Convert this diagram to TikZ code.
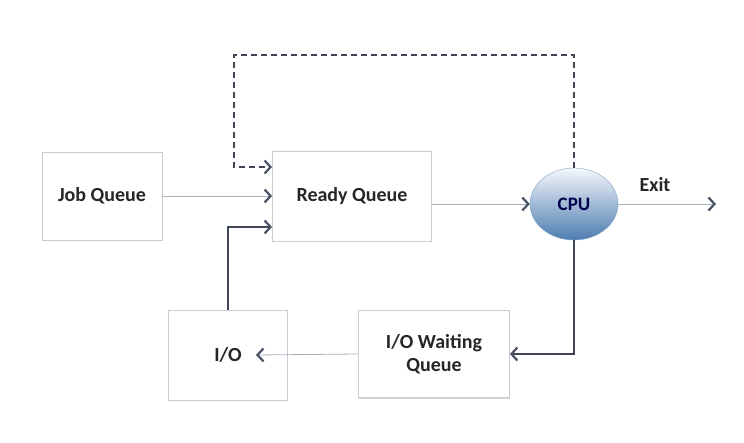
\documentclass[tikz,border=0pt]{standalone}
\usepackage{fontspec}
\setmainfont{Carlito}
\usetikzlibrary{arrows.meta,shapes.geometric,shadows}
\definecolor{boxline}{HTML}{C9CDD3}
\definecolor{thinline}{HTML}{A8B1C0}
\definecolor{darkline}{HTML}{3E4554}
\definecolor{tipcol}{HTML}{4A5263}
\definecolor{cputop}{HTML}{F4F8FC}
\definecolor{cpubot}{HTML}{4E7CB0}

\begin{document}
\begin{tikzpicture}[x=1pt,y=-1pt,
  box/.style={draw=boxline,line width=0.8pt,fill=white,minimum width=#1,
    drop shadow={opacity=0.35,shadow xshift=0pt,shadow yshift=-1.2pt},
    font=\fontsize{20}{23}\selectfont\bfseries,text=black!85,align=center},
  tipbarb/.style={-{Straight Barb[length=6pt,width=13pt,line width=2.2pt,color=tipcol]}},
  thinarrow/.style={draw=thinline,line width=0.8pt,tipbarb},
  thickarrow/.style={draw=darkline,line width=2.2pt,tipbarb},
  backarrow/.style={draw=darkline,line width=1.8pt,dash pattern=on 6pt off 4pt,tipbarb}]
\useasboundingbox (0,0) rectangle (744,443);

\node[box=120pt,minimum height=88pt] (job) at (102,196) {Job Queue};
\node[box=159pt,minimum height=90pt] (ready) at (352,196) {Ready Queue};
\node[box=119pt,minimum height=90pt] (io) at (228,355) {I/O};
\node[box=151pt,minimum height=87pt] (iowait) at (434,354) {I/O Waiting\\Queue};
\node[ellipse,minimum width=88pt,minimum height=72pt,inner sep=0pt,
  top color=cputop,bottom color=cpubot,draw=cpubot!70,line width=0.4pt,
  font=\fontsize{19}{22}\selectfont\bfseries,text=blue!30!black] (cpu) at (574,204) {CPU};
\node[font=\fontsize{20}{23}\selectfont\bfseries,text=black!85] (exit) at (655,185) {Exit};
\coordinate (exitend) at (716,204);
\coordinate (dtop) at (234,55);

\draw[thinarrow] (job.east) -- (ready.west);
\draw[thinarrow] (ready.east |- cpu.west) -- (cpu.west);
\draw[thinarrow] (cpu.east) -- (exitend);
\draw[thinarrow] (iowait.west) -- ([xshift=28pt]io.center);

\draw[backarrow] (cpu.north) |- (dtop) |- ([yshift=29pt]ready.west);
\draw[thickarrow] (io.north) |- ([yshift=-31pt]ready.west);
\draw[thickarrow] (cpu.south) |- (iowait.east);
\end{tikzpicture}
\end{document}
